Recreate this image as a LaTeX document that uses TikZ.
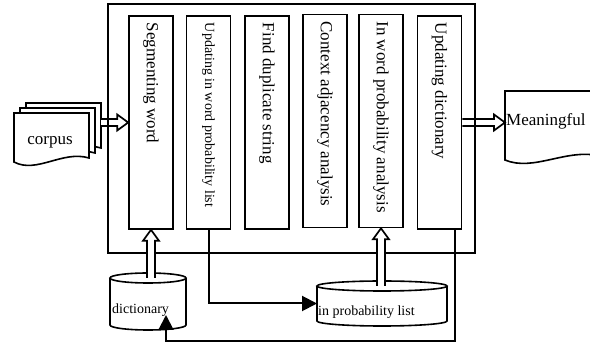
\documentclass[tikz,border=0pt]{standalone}
\usepackage{fontspec}
\setmainfont{Liberation Serif}
\usepackage{graphicx}
\usetikzlibrary{arrows.meta,calc}

\tikzset{
  stage/.style={draw, line width=1.6pt, minimum width=44pt, minimum height=213pt, inner sep=0pt, font=\fontsize{17}{20}\selectfont},
  body/.style={inner sep=0pt, outer sep=0pt},
  big/.style={font=\fontsize{17}{20}\selectfont},
  small/.style={font=\fontsize{14}{16}\selectfont},
  flow/.style={line width=2pt, -{Triangle[length=15pt,width=15pt]}},
}
\newcommand\vtext[1]{\rotatebox{-90}{\hbox to 199pt{#1\hss}}}

% hollow arrow, left to right
\newcommand\hollowright[2]{\draw[fill=white, line width=1.7pt] let \p1=(#1), \p2=(#2) in
  (\x1,\y1+3.5pt) -- (\x2-11pt,\y1+3.5pt) -- (\x2-11pt,\y1+8pt) -- (\x2,\y1)
  -- (\x2-11pt,\y1-8pt) -- (\x2-11pt,\y1-3.5pt) -- (\x1,\y1-3.5pt);}
% hollow arrow, bottom to top
\newcommand\hollowup[2]{\draw[fill=white, line width=1.7pt] let \p1=(#1), \p2=(#2) in
  (\x1-4pt,\y1) -- (\x1-4pt,\y2-11pt) -- (\x1-8pt,\y2-11pt) -- (\x1,\y2)
  -- (\x1+8pt,\y2-11pt) -- (\x1+4pt,\y2-11pt) -- (\x1+4pt,\y1);}
% cylinder round a node
\newcommand\drum[2]{\draw[line width=1.6pt]
  (#1.north) ellipse [x radius=#2, y radius=5pt]
  (#1.north west) -- (#1.south west) arc [start angle=180, end angle=360, x radius=#2, y radius=5pt] -- (#1.north east);}
% sheet with a wavy bottom round a node
\newcommand\sheet[1]{\draw[fill=white, line width=1.6pt] (#1.south west) -- (#1.north west) -- (#1.north east) -- ([yshift=4pt]#1.south east)
  .. controls ($(#1.south west)!0.65!(#1.south east)+(0,-12)$) and ($(#1.south west)!0.3!(#1.south east)+(0,12)$) .. (#1.south west) -- cycle;}

\begin{document}
\begin{tikzpicture}[x=1pt, y=-1pt]
\useasboundingbox (0,0) rectangle (590,344);

% frame and the six stages
\node[body, minimum width=367pt, minimum height=249pt] (frame) at (291.5,128.5) {};
\node[stage] (seg) at (151,122.5) {\vtext{Segmenting word}};
\node[stage, small] (upd) at (208.5,122.5) {\vtext{Updating in word probability list}};
\node[stage] (dup) at (267,122.5) {\vtext{Find duplicate string}};
\node[stage] (ctx) at (325,121) {\vtext{Context adjacency analysis}};
\node[stage] (iwp) at (381,121) {\vtext{In word probability analysis}};
\node[stage] (udict) at (439.5,122.5) {\vtext{Updating dictionary}};

% input documents
\node[body, minimum width=75pt, minimum height=49pt] (corpus3) at (63.5,127.5) {};
\node[body, minimum width=75pt, minimum height=49pt] (corpus2) at (57.5,132.5) {};
\node[body, minimum width=75pt, minimum height=49pt] (corpus) at (51.5,137.5) {};
\sheet{corpus3}
\sheet{corpus2}
\sheet{corpus}
\node[big] (corpustext) at (50,142) {corpus};

% output document
\node[body, minimum width=95pt, minimum height=69pt] (meaning) at (552.5,125.5) {};
\sheet{meaning}
\node[big, anchor=west, inner sep=1pt] (meaningtext) at (505,121) {Meaningful};

% stores
\node[body, minimum width=76pt, minimum height=47pt] (dict) at (148,301.5) {};
\drum{dict}{38pt}
\node[small, anchor=west, inner sep=1pt] (dicttext) at (111,310) {dictionary};
\node[body, minimum width=130pt, minimum height=35pt] (plist) at (382,303.5) {};
\drum{plist}{65pt}
\node[small, anchor=west, inner sep=1pt] (plisttext) at (317,312) {in probability list};

\hollowright{seg.west -| corpus3.east}{seg.west}
\hollowright{udict.east}{udict.east -| meaning.west}
\draw[line width=1.8pt] (frame.north west) rectangle (frame.south east);
\hollowup{seg.south |- dict.north}{seg.south}
\hollowup{iwp.south |- plist.north}{iwp.south}

\draw[flow] (upd.south) |- (plist.west);
\draw[flow] ([xshift=15.5pt]udict.south) -- ++(0,111) -| ([xshift=18pt,yshift=10pt]dict.south);
\end{tikzpicture}
\end{document}
